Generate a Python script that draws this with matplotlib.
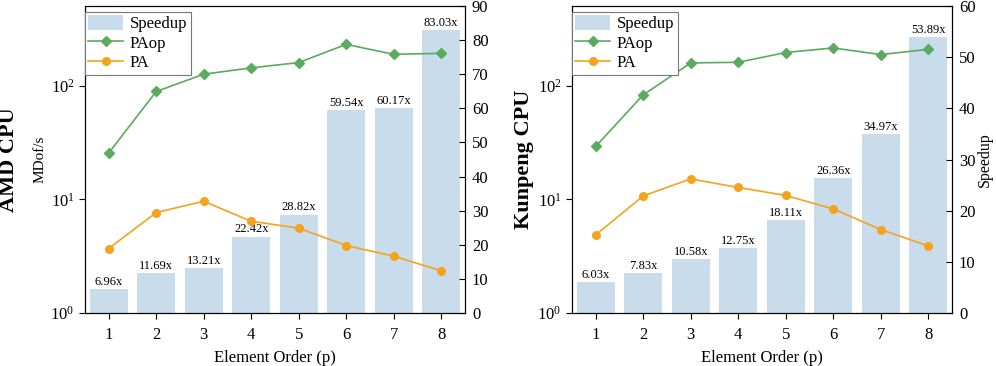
import matplotlib
matplotlib.use("Agg")
import matplotlib.pyplot as plt
import numpy as np

orders = [1, 2, 3, 4, 5, 6, 7, 8]

amd_speedup = [6.96, 11.69, 13.21, 22.42, 28.82, 59.54, 60.17, 83.03]
amd_paop = [25.5, 88.6, 125.7, 143, 159, 230, 188, 192]
amd_pa = [3.69, 7.64, 9.6, 6.41, 5.57, 3.92, 3.16, 2.35]

kp_speedup = [6.03, 7.83, 10.58, 12.75, 18.11, 26.36, 34.97, 53.89]
kp_paop = [29.2, 82.8, 158, 160, 195, 214, 187, 208]
kp_pa = [4.86, 10.7, 15.1, 12.7, 10.8, 8.22, 5.42, 3.89]

plt.rcParams['font.family'] = ['Liberation Serif', 'DejaVu Serif']
plt.rcParams['mathtext.fontset'] = 'stix'

BAR = '#c9dcec'
GREEN = '#5aab5e'
ORANGE = '#f5a31d'

fig = plt.figure(figsize=(9.96, 3.66), dpi=100)

def panel(rect, speedup, paop, pa, ymax_r, show_mdof, show_speedup):
    ax = fig.add_axes(rect)
    ax2 = ax.twinx()
    ax.set_zorder(ax2.get_zorder() + 1)
    ax.patch.set_visible(False)
    x = np.array(orders)
    bars = ax2.bar(x, speedup, width=0.8, color=BAR, label='Speedup')
    for xi, v in zip(x, speedup):
        ax2.text(xi, v + ymax_r * 0.004, f'{v:.2f}x', ha='center', va='bottom', fontsize=9)
    ax2.set_ylim(0, ymax_r)
    ax2.set_yticks(np.arange(0, ymax_r + 1, 10))
    ax2.tick_params(axis='y', direction='in', labelsize=12, length=4, pad=5)
    l1, = ax.plot(x, paop, color=GREEN, marker='D', markersize=5.5, lw=1.2, label='PAop')
    l2, = ax.plot(x, pa, color=ORANGE, marker='o', markersize=5.5, lw=1.2, label='PA')
    ax.set_yscale('log')
    ax.set_ylim(1, 500)
    ax.set_yticks([1, 10, 100])
    ax.yaxis.set_minor_locator(matplotlib.ticker.NullLocator())
    ax.set_xlim(0.5, 8.5)
    ax.set_xticks(orders)
    ax.tick_params(axis='both', labelsize=12, length=4)
    ax.tick_params(axis='x', pad=6)
    ax2.set_xticks(orders)
    ax2.tick_params(axis='x', top=True, direction='in', length=4, labeltop=False)
    ax.set_xlabel('Element Order (p)', fontsize=12, labelpad=5)
    if show_mdof:
        ax.set_ylabel('MDof/s', fontsize=11, labelpad=3)
    if show_speedup:
        ax2.set_ylabel('Speedup', fontsize=11.5, labelpad=1)
    leg = ax.legend([bars, l1, l2], ['Speedup', 'PAop', 'PA'], loc='upper left',
                    bbox_to_anchor=(0.0, 0.982), borderaxespad=0, fontsize=12,
                    fancybox=False, edgecolor='#777777', framealpha=1,
                    handlelength=2.1, handleheight=1.0, handletextpad=0.4,
                    labelspacing=0.15, borderpad=0.2)
    leg.get_frame().set_linewidth(0.8)
    return ax

ax_l = panel([0.0853, 0.1448, 0.3815, 0.8388], amd_speedup, amd_paop, amd_pa, 90, True, False)
ax_r = panel([0.5743, 0.1448, 0.3815, 0.8388], kp_speedup, kp_paop, kp_pa, 60, False, True)

fig.text(0.009, 0.5636, 'AMD CPU', rotation=90, fontsize=16, fontweight='bold', ha='center', va='center')
fig.text(0.526, 0.5636, 'Kunpeng CPU', rotation=90, fontsize=16, fontweight='bold', ha='center', va='center')

fig.savefig('out.png', dpi=100)
